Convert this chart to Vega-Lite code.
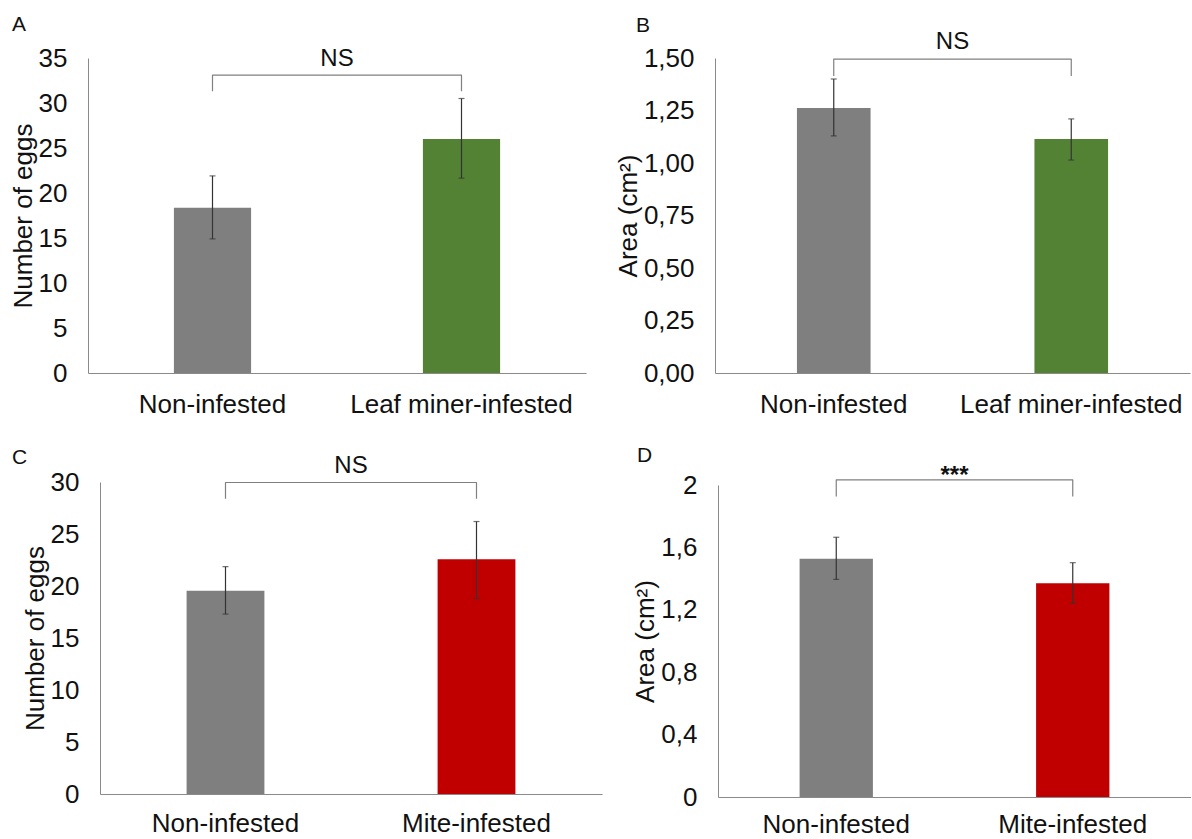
{
  "$schema": "https://vega.github.io/schema/vega-lite/v6.json",
  "padding": {"left": 10, "top": 14, "right": 0, "bottom": 0},
  "background": "white",
  "bounds": "flush",
  "config": {
    "font": "Liberation Sans",
    "view": {"stroke": null},
    "axis": {"domainColor": "#8a8a8a", "domainWidth": 1, "ticks": false, "grid": false, "labelFont": "Liberation Sans", "labelFontSize": 26, "labelLimit": 0, "labelColor": "#111111", "titleFont": "Liberation Sans", "titleFontSize": 26, "titleFontWeight": "normal", "titleColor": "#111111"},
    "axisX": {"labelAngle": 0, "labelPadding": 18},
    "axisY": {"labelPadding": 21, "titlePadding": 2},
    "title": {"font": "Liberation Sans", "fontSize": 21, "fontWeight": "normal", "anchor": "start", "frame": "group", "color": "#111111"},
    "bar": {"width": {"band": 0.31}},
    "tick": {"orient": "horizontal", "size": 6, "thickness": 1.2, "color": "#333333"},
    "rule": {"color": "#333333", "strokeWidth": 1.2},
    "line": {"color": "#808080", "strokeWidth": 1.2, "strokeJoin": "round"}
  },
  "vconcat": [
    {
      "bounds": "flush",
      "hconcat": [
        {
          "width": 498, "height": 315,
          "title": {"text": "A", "dx": -76, "offset": 10},
          "layer": [
            {
              "data": {"values": [
                {"g": "Non-infested", "m": 18.35, "lo": 14.9, "hi": 21.9},
                {"g": "Leaf miner-infested", "m": 26.0, "lo": 21.65, "hi": 30.5}
              ]},
              "layer": [
                {"mark": "bar",
                 "encoding": {
                   "x": {"field": "g", "type": "nominal", "title": null, "scale": {"domain": ["Non-infested", "Leaf miner-infested"], "paddingInner": 0, "paddingOuter": 0}},
                   "y": {"field": "m", "type": "quantitative", "title": "Number of eggs", "scale": {"domain": [0, 35]}, "axis": {"values": [0, 5, 10, 15, 20, 25, 30, 35]}},
                   "color": {"field": "g", "type": "nominal", "scale": {"domain": ["Non-infested", "Leaf miner-infested", "Mite-infested"], "range": ["#7f7f7f", "#548235", "#c00000"]}, "legend": null}
                 }},
                {"mark": "rule", "encoding": {"x": {"field": "g", "type": "nominal"}, "y": {"field": "lo", "type": "quantitative", "scale": {"domain": [0, 35]}}, "y2": {"field": "hi"}}},
                {"mark": "tick", "encoding": {"x": {"field": "g", "type": "nominal"}, "y": {"field": "lo", "type": "quantitative", "scale": {"domain": [0, 35]}}}},
                {"mark": "tick", "encoding": {"x": {"field": "g", "type": "nominal"}, "y": {"field": "hi", "type": "quantitative", "scale": {"domain": [0, 35]}}}}
              ]
            },
            {
              "data": {"values": [
                {"g": "Non-infested", "y": 31.3, "o": 1},
                {"g": "Non-infested", "y": 33.1, "o": 2},
                {"g": "Leaf miner-infested", "y": 33.1, "o": 3},
                {"g": "Leaf miner-infested", "y": 31.3, "o": 4}
              ]},
              "mark": "line",
              "encoding": {"x": {"field": "g", "type": "nominal"}, "y": {"field": "y", "type": "quantitative", "scale": {"domain": [0, 35]}}, "order": {"field": "o"}}
            },
            {
              "data": {"values": [{"g": "Non-infested", "y": 34.9, "label": "NS"}]},
              "mark": {"type": "text", "fontSize": 24, "font": "Liberation Sans", "color": "#111111", "baseline": "middle"},
              "encoding": {"x": {"field": "g", "type": "nominal", "bandPosition": 1}, "y": {"field": "y", "type": "quantitative", "scale": {"domain": [0, 35]}}, "text": {"field": "label"}}
            }
          ]
        },
        {
          "width": 475, "height": 315,
          "title": {"text": "B", "dx": -79, "offset": -6},
          "layer": [
            {
              "data": {"values": [
                {"g": "Non-infested", "m": 1.262, "lo": 1.129, "hi": 1.40},
                {"g": "Leaf miner-infested", "m": 1.114, "lo": 1.014, "hi": 1.21}
              ]},
              "layer": [
                {"mark": "bar",
                 "encoding": {
                   "x": {"field": "g", "type": "nominal", "title": null, "scale": {"domain": ["Non-infested", "Leaf miner-infested"], "paddingInner": 0, "paddingOuter": 0}},
                   "y": {"field": "m", "type": "quantitative", "title": "Area (cm²)", "scale": {"domain": [0, 1.5], "nice": false}, "axis": {"values": [0, 0.25, 0.5, 0.75, 1, 1.25, 1.5], "labelExpr": "replace(format(datum.value, '.2f'), '.', ',')"}},
                   "color": {"field": "g", "type": "nominal", "legend": null}
                 }},
                {"mark": "rule", "encoding": {"x": {"field": "g", "type": "nominal"}, "y": {"field": "lo", "type": "quantitative", "scale": {"domain": [0, 1.5], "nice": false}}, "y2": {"field": "hi"}}},
                {"mark": "tick", "encoding": {"x": {"field": "g", "type": "nominal"}, "y": {"field": "lo", "type": "quantitative", "scale": {"domain": [0, 1.5], "nice": false}}}},
                {"mark": "tick", "encoding": {"x": {"field": "g", "type": "nominal"}, "y": {"field": "hi", "type": "quantitative", "scale": {"domain": [0, 1.5], "nice": false}}}}
              ]
            },
            {
              "data": {"values": [
                {"g": "Non-infested", "y": 1.414, "o": 1},
                {"g": "Non-infested", "y": 1.495, "o": 2},
                {"g": "Leaf miner-infested", "y": 1.495, "o": 3},
                {"g": "Leaf miner-infested", "y": 1.414, "o": 4}
              ]},
              "mark": "line",
              "encoding": {"x": {"field": "g", "type": "nominal"}, "y": {"field": "y", "type": "quantitative", "scale": {"domain": [0, 1.5], "nice": false}}, "order": {"field": "o"}}
            },
            {
              "data": {"values": [{"g": "Non-infested", "y": 1.576, "label": "NS"}]},
              "mark": {"type": "text", "fontSize": 24, "font": "Liberation Sans", "color": "#111111", "baseline": "middle"},
              "encoding": {"x": {"field": "g", "type": "nominal", "bandPosition": 1}, "y": {"field": "y", "type": "quantitative", "scale": {"domain": [0, 1.5], "nice": false}}, "text": {"field": "label"}}
            }
          ]
        }
      ],
      "spacing": 129
    },
    {
      "bounds": "flush",
      "hconcat": [
        {
          "width": 514, "height": 312,
          "title": {"text": "C", "dx": -76, "offset": -14},
          "layer": [
            {
              "data": {"values": [
                {"g": "Non-infested", "m": 19.55, "lo": 17.3, "hi": 21.86},
                {"g": "Mite-infested", "m": 22.57, "lo": 18.8, "hi": 26.2}
              ]},
              "layer": [
                {"mark": "bar",
                 "encoding": {
                   "x": {"field": "g", "type": "nominal", "title": null, "scale": {"domain": ["Non-infested", "Mite-infested"], "paddingInner": 0, "paddingOuter": 0, "range": [12, 514]}, "axis": {"labelPadding": 16}},
                   "y": {"field": "m", "type": "quantitative", "title": "Number of eggs", "scale": {"domain": [0, 30]}, "axis": {"values": [0, 5, 10, 15, 20, 25, 30], "offset": -12}},
                   "color": {"field": "g", "type": "nominal", "legend": null}
                 }},
                {"mark": "rule", "encoding": {"x": {"field": "g", "type": "nominal"}, "y": {"field": "lo", "type": "quantitative", "scale": {"domain": [0, 30]}}, "y2": {"field": "hi"}}},
                {"mark": "tick", "encoding": {"x": {"field": "g", "type": "nominal"}, "y": {"field": "lo", "type": "quantitative", "scale": {"domain": [0, 30]}}}},
                {"mark": "tick", "encoding": {"x": {"field": "g", "type": "nominal"}, "y": {"field": "hi", "type": "quantitative", "scale": {"domain": [0, 30]}}}}
              ]
            },
            {
              "data": {"values": [
                {"g": "Non-infested", "y": 28.4, "o": 1},
                {"g": "Non-infested", "y": 29.95, "o": 2},
                {"g": "Mite-infested", "y": 29.95, "o": 3},
                {"g": "Mite-infested", "y": 28.4, "o": 4}
              ]},
              "mark": "line",
              "encoding": {"x": {"field": "g", "type": "nominal"}, "y": {"field": "y", "type": "quantitative", "scale": {"domain": [0, 30]}}, "order": {"field": "o"}}
            },
            {
              "data": {"values": [{"g": "Non-infested", "y": 31.55, "label": "NS"}]},
              "mark": {"type": "text", "fontSize": 24, "font": "Liberation Sans", "color": "#111111", "baseline": "middle"},
              "encoding": {"x": {"field": "g", "type": "nominal", "bandPosition": 1}, "y": {"field": "y", "type": "quantitative", "scale": {"domain": [0, 30]}}, "text": {"field": "label"}}
            }
          ]
        },
        {
          "width": 473, "height": 315,
          "title": {"text": "D", "dx": -81, "offset": -2},
          "layer": [
            {
              "data": {"values": [
                {"g": "Non-infested", "m": 1.528, "lo": 1.395, "hi": 1.665},
                {"g": "Mite-infested", "m": 1.37, "lo": 1.241, "hi": 1.502}
              ]},
              "layer": [
                {"mark": "bar",
                 "encoding": {
                   "x": {"field": "g", "type": "nominal", "title": null, "scale": {"domain": ["Non-infested", "Mite-infested"], "paddingInner": 0, "paddingOuter": 0}, "axis": {"labelPadding": 14}},
                   "y": {"field": "m", "type": "quantitative", "title": "Area (cm²)", "scale": {"domain": [0, 2], "range": [315, 3]}, "axis": {"values": [0, 0.4, 0.8, 1.2, 1.6, 2], "labelExpr": "replace(format(datum.value, '~g'), '.', ',')"}},
                   "color": {"field": "g", "type": "nominal", "legend": null}
                 }},
                {"mark": "rule", "encoding": {"x": {"field": "g", "type": "nominal"}, "y": {"field": "lo", "type": "quantitative", "scale": {"domain": [0, 2], "range": [315, 3]}}, "y2": {"field": "hi"}}},
                {"mark": "tick", "encoding": {"x": {"field": "g", "type": "nominal"}, "y": {"field": "lo", "type": "quantitative", "scale": {"domain": [0, 2], "range": [315, 3]}}}},
                {"mark": "tick", "encoding": {"x": {"field": "g", "type": "nominal"}, "y": {"field": "hi", "type": "quantitative", "scale": {"domain": [0, 2], "range": [315, 3]}}}}
              ]
            },
            {
              "data": {"values": [
                {"g": "Non-infested", "y": 1.926, "o": 1},
                {"g": "Non-infested", "y": 2.033, "o": 2},
                {"g": "Mite-infested", "y": 2.033, "o": 3},
                {"g": "Mite-infested", "y": 1.926, "o": 4}
              ]},
              "mark": "line",
              "encoding": {"x": {"field": "g", "type": "nominal"}, "y": {"field": "y", "type": "quantitative", "scale": {"domain": [0, 2], "range": [315, 3]}}, "order": {"field": "o"}}
            },
            {
              "data": {"values": [{"g": "Non-infested", "y": 2.057, "label": "***"}]},
              "mark": {"type": "text", "fontSize": 24, "fontWeight": "bold", "font": "Liberation Sans", "color": "#111111", "baseline": "middle"},
              "encoding": {"x": {"field": "g", "type": "nominal", "bandPosition": 1}, "y": {"field": "y", "type": "quantitative", "scale": {"domain": [0, 2], "range": [315, 3]}}, "text": {"field": "label"}}
            }
          ]
        }
      ],
      "spacing": 116
    }
  ],
  "spacing": 424
}
